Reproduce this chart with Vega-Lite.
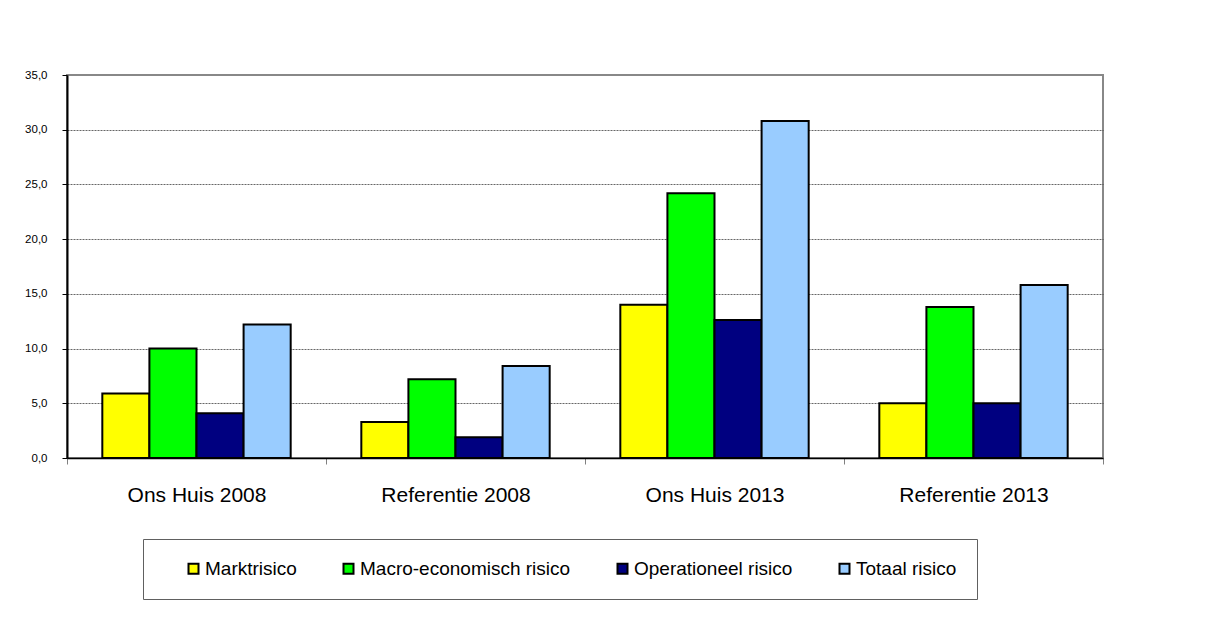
{
  "$schema": "https://vega.github.io/schema/vega-lite/v6.json",
  "width": 1036,
  "height": 383,
  "autosize": {"type": "none"},
  "padding": {"left": 67, "top": 75, "right": 106, "bottom": 177},
  "background": "white",
  "data": {
    "values": [
      {"groep": "Ons Huis 2008", "risico": "Marktrisico", "waarde": 5.9},
      {"groep": "Ons Huis 2008", "risico": "Macro-economisch risico", "waarde": 10.0},
      {"groep": "Ons Huis 2008", "risico": "Operationeel risico", "waarde": 4.1},
      {"groep": "Ons Huis 2008", "risico": "Totaal risico", "waarde": 12.2},
      {"groep": "Referentie 2008", "risico": "Marktrisico", "waarde": 3.3},
      {"groep": "Referentie 2008", "risico": "Macro-economisch risico", "waarde": 7.2},
      {"groep": "Referentie 2008", "risico": "Operationeel risico", "waarde": 1.9},
      {"groep": "Referentie 2008", "risico": "Totaal risico", "waarde": 8.4},
      {"groep": "Ons Huis 2013", "risico": "Marktrisico", "waarde": 14.0},
      {"groep": "Ons Huis 2013", "risico": "Macro-economisch risico", "waarde": 24.2},
      {"groep": "Ons Huis 2013", "risico": "Operationeel risico", "waarde": 12.6},
      {"groep": "Ons Huis 2013", "risico": "Totaal risico", "waarde": 30.8},
      {"groep": "Referentie 2013", "risico": "Marktrisico", "waarde": 5.0},
      {"groep": "Referentie 2013", "risico": "Macro-economisch risico", "waarde": 13.8},
      {"groep": "Referentie 2013", "risico": "Operationeel risico", "waarde": 5.0},
      {"groep": "Referentie 2013", "risico": "Totaal risico", "waarde": 15.8}
    ]
  },
  "mark": {"type": "bar", "stroke": "black", "strokeWidth": 2},
  "encoding": {
    "x": {
      "field": "groep",
      "type": "nominal",
      "sort": ["Ons Huis 2008", "Referentie 2008", "Ons Huis 2013", "Referentie 2013"],
      "scale": {"paddingInner": 0, "paddingOuter": 0},
      "axis": {
        "title": null,
        "labelAngle": 0,
        "labelFontSize": 21,
        "labelFont": "Liberation Sans",
        "labelColor": "black",
        "labelBaseline": "alphabetic",
        "labelPadding": 37,
        "tickBand": "extent",
        "tickSize": 6,
        "tickColor": "#808080",
        "domainColor": "black",
        "domainWidth": 1.5,
        "grid": false
      }
    },
    "xOffset": {
      "field": "risico",
      "type": "nominal",
      "sort": ["Marktrisico", "Macro-economisch risico", "Operationeel risico", "Totaal risico"],
      "scale": {"paddingInner": 0, "paddingOuter": 0.75}
    },
    "y": {
      "field": "waarde",
      "type": "quantitative",
      "scale": {"domain": [0, 35], "nice": false},
      "axis": {
        "title": null,
        "values": [0, 5, 10, 15, 20, 25, 30, 35],
        "labelExpr": "replace(format(datum.value, '.1f'), '.', ',')",
        "labelFontSize": 11.5,
        "labelFont": "Liberation Sans",
        "labelColor": "black",
        "labelPadding": 15,
        "tickSize": 5,
        "tickColor": "black",
        "domainColor": "black",
        "domainWidth": 2,
        "gridColor": "#404040",
        "gridDash": [2, 1],
        "gridWidth": 0.8,
        "gridOpacity": {"condition": {"test": "datum.value >= 35 || datum.value <= 0", "value": 0}, "value": 1}
      }
    },
    "color": {
      "field": "risico",
      "type": "nominal",
      "scale": {
        "domain": ["Marktrisico", "Macro-economisch risico", "Operationeel risico", "Totaal risico"],
        "range": ["#FFFF00", "#00FF00", "#000080", "#99CCFF"]
      },
      "legend": {
        "orient": "none",
        "legendX": 76,
        "legendY": 464,
        "direction": "horizontal",
        "columns": 4,
        "title": " ",
        "titleOrient": "left",
        "titleFontSize": 10,
        "titlePadding": 21,
        "padding": 20,
        "strokeColor": "#606060",
        "fillColor": "white",
        "columnPadding": 42,
        "symbolType": "square",
        "symbolSize": 100,
        "symbolStrokeColor": "black",
        "symbolStrokeWidth": 2,
        "symbolOpacity": 1,
        "labelFont": "Liberation Sans",
        "labelFontSize": 19,
        "labelColor": "black",
        "labelOffset": 2,
        "labelLimit": 400
      }
    }
  },
  "config": {
    "view": {"stroke": "#888888", "strokeWidth": 2}
  }
}
